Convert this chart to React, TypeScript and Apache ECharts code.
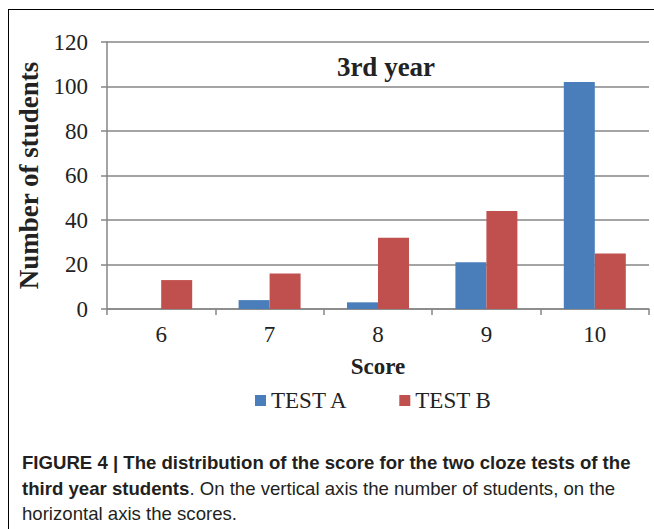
import React, { useEffect, useRef } from "react";
import * as echarts from "echarts";

const categories = ["6", "7", "8", "9", "10"];
const testA = [0, 4, 3, 21, 102];
const testB = [13, 16, 32, 44, 25];
const seriesNames = ["TEST A", "TEST B"];
const yTicks = { min: 0, max: 120, interval: 20 };

export default function App() {
  const ref = useRef<HTMLDivElement>(null);
  useEffect(() => {
    document.body.style.margin = "0";
    const chart = echarts.init(ref.current!, null, { renderer: "svg" });
    const serif = "'Liberation Serif', 'Times New Roman', serif";
    const sans = "'Liberation Sans', Arial, sans-serif";
    chart.setOption({
      animation: false,
      backgroundColor: "#ffffff",
      grid: { left: 107, right: 5, top: 42, bottom: 220, containLabel: false },
      legend: {
        left: 250,
        top: 384,
        itemWidth: 11,
        itemHeight: 11,
        itemGap: 51,
        icon: "rect",
        textStyle: { fontFamily: serif, fontSize: 23, color: "#222" },
        data: seriesNames,
      },
      xAxis: {
        type: "category",
        data: categories,
        axisLine: { show: true, lineStyle: { color: "#868686", width: 1.5 } },
        axisTick: { show: true, length: 6, alignWithLabel: false, lineStyle: { color: "#868686", width: 1.5 } },
        axisLabel: { fontFamily: serif, fontSize: 23, color: "#222", margin: 14 },
        name: "Score",
        nameLocation: "middle",
        nameGap: 46,
        nameTextStyle: { fontFamily: serif, fontSize: 23, fontWeight: "bold", color: "#222" },
      },
      yAxis: {
        type: "value",
        min: yTicks.min,
        max: yTicks.max,
        interval: yTicks.interval,
        axisLine: { show: true, lineStyle: { color: "#868686", width: 1.5 } },
        axisTick: { show: true, length: 6, inside: false, lineStyle: { color: "#868686", width: 1.5 } },
        splitLine: { show: true, lineStyle: { color: "#868686", width: 1.5 } },
        axisLabel: { fontFamily: serif, fontSize: 23, color: "#222", margin: 19 },
        name: "Number of students",
        nameLocation: "middle",
        nameRotate: 90,
        nameGap: 58,
        nameTextStyle: { fontFamily: serif, fontSize: 27, fontWeight: "bold", color: "#222" },
      },
      graphic: [
        {
          type: "text",
          x: 386,
          y: 67,
          style: {
            text: "3rd year",
            fontFamily: serif,
            fontSize: 27,
            fontWeight: "bold",
            fill: "#222",
            textAlign: "center",
            textVerticalAlign: "middle",
          },
        },
        {
          type: "text",
          x: 22,
          y: 462,
          style: {
            text: "FIGURE 4 | The distribution of the score for the two cloze tests of the",
            fontFamily: sans,
            fontSize: 18.6,
            fontWeight: "bold",
            fill: "#231f20",
            textVerticalAlign: "middle",
          },
        },
        {
          type: "text",
          x: 22,
          y: 488,
          style: {
            text: "{b|third year students}{r|. On the vertical axis the number of students, on the}",
            textVerticalAlign: "middle",
            rich: {
              b: { fontFamily: sans, fontSize: 18.6, fontWeight: "bold", fill: "#231f20" },
              r: { fontFamily: sans, fontSize: 18.6, fill: "#231f20" },
            },
          },
        },
        {
          type: "text",
          x: 22,
          y: 513,
          style: {
            text: "horizontal axis the scores.",
            fontFamily: sans,
            fontSize: 18.6,
            fill: "#231f20",
            textVerticalAlign: "middle",
          },
        },
      ],
      series: [
        {
          name: seriesNames[0],
          type: "bar",
          data: testA,
          barWidth: 31,
          barGap: "0%",
          itemStyle: { color: "#4a7ebb" },
        },
        {
          name: seriesNames[1],
          type: "bar",
          data: testB,
          barWidth: 31,
          barGap: "0%",
          itemStyle: { color: "#c0504d" },
        },
      ],
    });
    return () => chart.dispose();
  }, []);
  return (
    <div style={{ position: "relative", width: 654, height: 529 }}>
      <div ref={ref} style={{ width: 654, height: 529 }} />
      <div
        style={{
          position: "absolute",
          left: 8,
          top: 9,
          width: 660,
          height: 540,
          borderLeft: "1.5px solid #000",
          borderTop: "1.5px solid #000",
          pointerEvents: "none",
        }}
      />
    </div>
  );
}
